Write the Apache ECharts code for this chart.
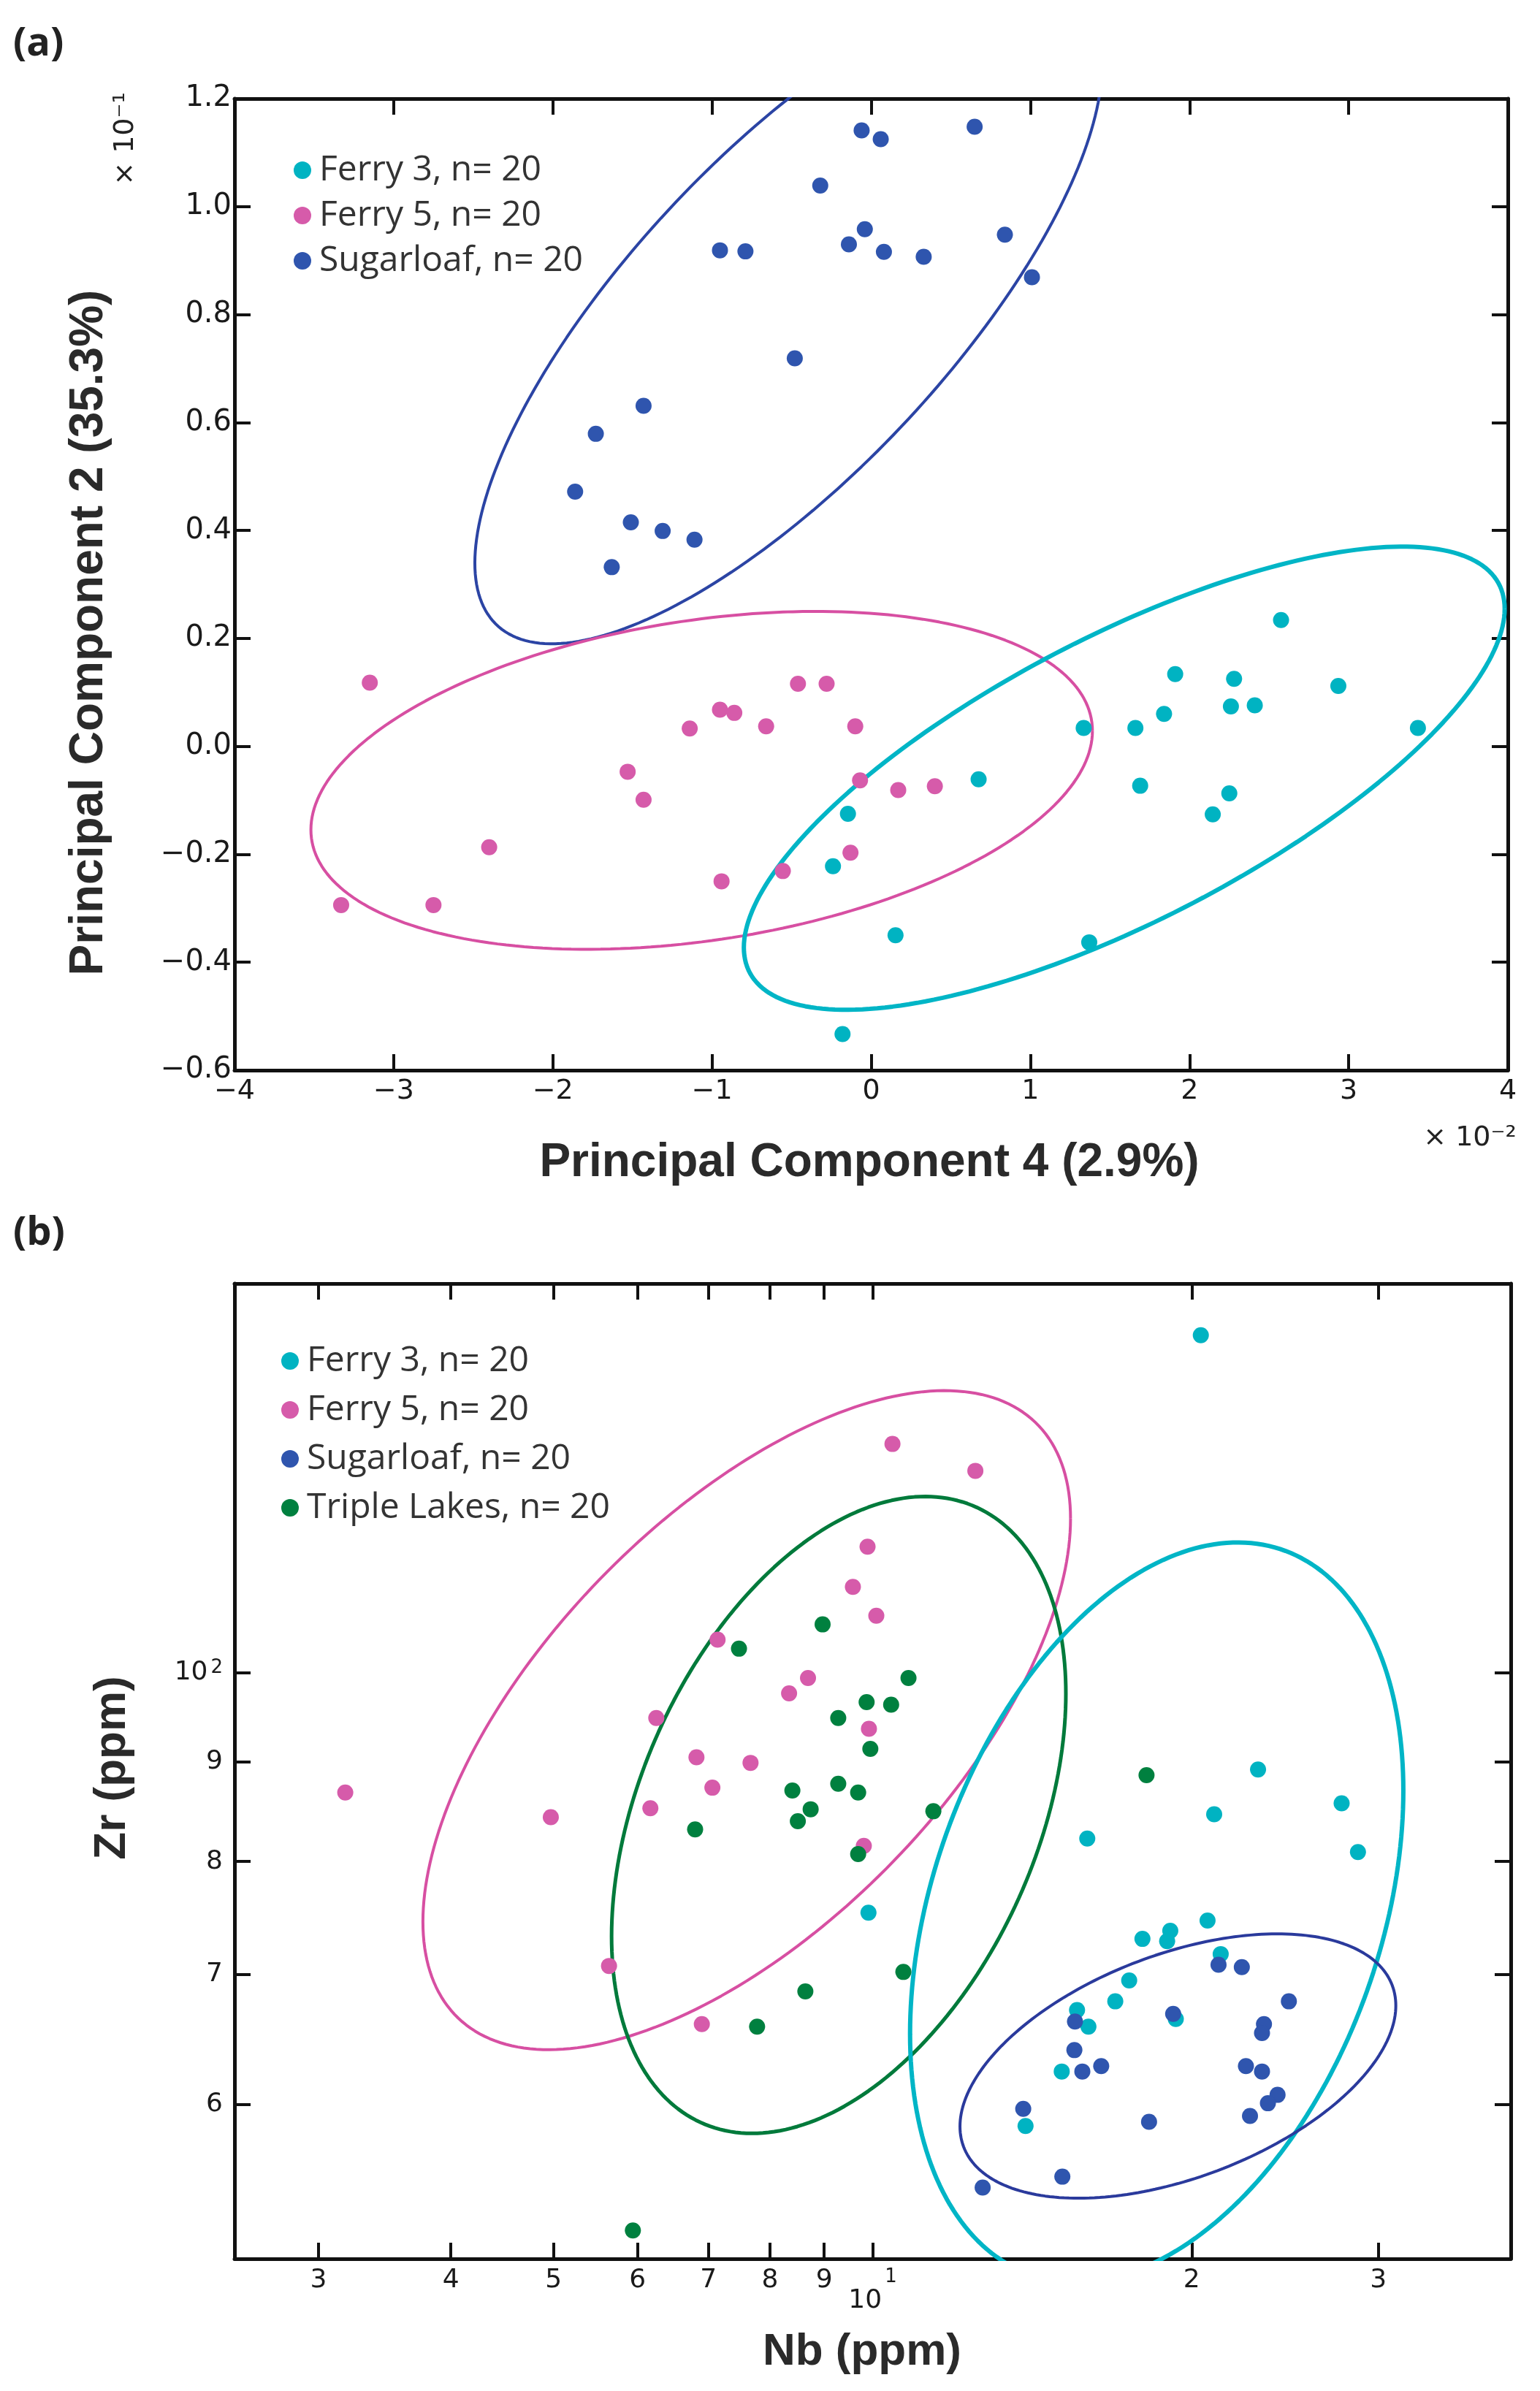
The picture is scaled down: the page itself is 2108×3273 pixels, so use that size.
<!DOCTYPE html>
<html>
<head>
<meta charset="utf-8">
<title>PCA scores and Nb-Zr plot</title>
<script src="https://cdn.jsdelivr.net/npm/echarts@6/dist/echarts.min.js"></script>
<style>
  html, body { margin: 0; padding: 0; background: #fff; }
  #chart { width: 2108px; height: 3273px; }
</style>
</head>
<body>
<div id="chart"></div>
<script>
// ---- (a) principal component scores (x: PC4 x10^-2, y: PC2 x10^-1) ----
const pcaFerry3X = [2.575, 1.91, 2.28, 2.935, 2.26, 2.41, 1.84, 1.335, 1.66, 3.435, 0.675, 1.69, 2.25, 2.146, -0.146, -0.24, 0.153, 1.37, -0.18];
const pcaFerry3Y = [0.234, 0.134, 0.125, 0.112, 0.074, 0.076, 0.060, 0.034, 0.034, 0.034, -0.061, -0.073, -0.087, -0.126, -0.125, -0.222, -0.35, -0.363, -0.533];
const pcaFerry5X = [-3.15, -1.14, -0.95, -0.86, -0.66, -1.53, -1.43, -2.40, -0.94, -3.33, -2.75, -0.46, -0.28, -0.10, -0.07, 0.17, 0.40, -0.13, -0.555];
const pcaFerry5Y = [0.118, 0.033, 0.068, 0.062, 0.037, -0.047, -0.099, -0.187, -0.25, -0.294, -0.294, 0.116, 0.116, 0.037, -0.063, -0.081, -0.074, -0.197, -0.231];
const pcaSugarX = [-0.95, -0.79, -1.43, -1.73, -1.86, -1.51, -1.31, -1.11, -1.63, -0.06, 0.06, 0.65, -0.32, -0.04, -0.14, 0.08, 0.33, 0.84, 1.01, -0.48];
const pcaSugarY = [0.919, 0.917, 0.631, 0.579, 0.472, 0.415, 0.399, 0.383, 0.332, 1.141, 1.125, 1.148, 1.039, 0.958, 0.930, 0.916, 0.907, 0.948, 0.869, 0.719];

// confidence ellipses: [cx, cy, rx, ry, phase in degrees]
const pcaEllFerry3 = [1.59, -0.059, 2.39, 0.429, 43];
const pcaEllFerry5 = [-1.065, -0.063, 2.455, 0.313, 73];
const pcaEllSugar = [-0.52, 0.80, 1.97, 0.61, 41];

// ---- (b) Nb vs Zr (ppm), log-log ----
const nbFerry3 = [20.4, 23.1, 27.7, 21.0, 15.94, 28.7, 9.91, 20.7, 19.09, 18.96, 17.97, 21.3, 17.46, 16.94, 15.59, 19.32, 15.98, 15.08, 13.94];
const zrFerry3 = [149.1, 89.2, 85.7, 84.6, 82.2, 80.9, 75.3, 74.6, 73.7, 72.8, 73.0, 71.7, 69.5, 67.8, 67.1, 66.4, 65.8, 62.4, 58.5];
const nbFerry5 = [7.14, 6.25, 6.82, 7.67, 7.06, 3.18, 4.97, 6.17, 5.64, 6.90, 10.44, 12.50, 9.89, 9.58, 10.08, 8.69, 8.34, 9.92, 9.81];
const zrFerry5 = [104.0, 94.8, 90.5, 89.9, 87.3, 86.8, 84.3, 85.2, 70.7, 66.0, 131.1, 127.0, 116.1, 110.7, 107.0, 99.4, 97.6, 93.6, 81.5];
const nbSugar = [21.2, 22.3, 24.7, 19.21, 15.52, 23.4, 23.3, 15.5, 16.43, 15.77, 22.5, 23.3, 24.1, 23.6, 13.87, 18.23, 22.7, 15.1, 12.70];
const zrSugar = [70.8, 70.6, 67.8, 66.8, 66.2, 66.0, 65.3, 64.0, 62.8, 62.4, 62.8, 62.4, 60.7, 60.1, 59.7, 58.8, 59.2, 55.1, 54.4];
const nbTriple = [7.48, 6.80, 7.78, 5.94, 8.97, 10.81, 9.87, 10.41, 9.28, 9.95, 18.13, 8.40, 9.28, 9.69, 8.74, 8.50, 11.41, 9.69, 10.69, 8.64];
const zrTriple = [102.9, 83.1, 65.8, 51.7, 105.9, 99.4, 96.6, 96.3, 94.8, 91.4, 88.6, 87.0, 87.7, 86.8, 85.1, 83.9, 84.9, 80.7, 70.2, 68.6];

// ellipses in log10 space: [cx, cy, rx, ry, phase in degrees]
const logEllFerry3 = [1.268, 1.877, 0.2327, 0.19, 70.8];
const logEllFerry5 = [0.8812, 1.9757, 0.3055, 0.1693, 52.3];
const logEllSugar = [1.288, 1.798, 0.2056, 0.0679, 62.8];
const logEllTriple = [0.968, 1.927, 0.2143, 0.1636, 67.6];

const nbTicks = [3, 4, 5, 6, 7, 8, 9, 10, 20, 30];
const zrTicks = [60, 70, 80, 90, 100];

const names = ['Ferry 3, n= 20', 'Ferry 5, n= 20', 'Sugarloaf, n= 20', 'Triple Lakes, n= 20'];
const dotColors = ['#00B3C2', '#D65BAA', '#2F55AE', '#00803F'];
const ringColors = ['#00B5C6', '#D74FA2', '#2B44A4', '#007A3B'];

function zip(xs, ys) { return xs.map((x, i) => [x, ys[i]]); }

function ellipse(p, logSpace) {
    const [cx, cy, rx, ry, ph] = p;
    const pts = [];
    for (let i = 0; i <= 240; i++) {
        const t = i / 240 * 2 * Math.PI;
        let x = cx + rx * Math.cos(t);
        let y = cy + ry * Math.cos(t - ph * Math.PI / 180);
        if (logSpace) { x = Math.pow(10, x); y = Math.pow(10, y); }
        pts.push([x, y]);
    }
    return pts;
}

const frameLine = { show: true, onZero: false, lineStyle: { color: '#111', width: 5 } };
const tickStyle = { inside: true, length: 22, lineStyle: { color: '#111', width: 4 } };
const minus = v => String(v).replace('-', '\u2212');

let chart = echarts.init(document.getElementById('chart'), null, { renderer: 'canvas' });

function ring(name, data, xi, yi, color, width) {
    return {
        name: name, type: 'line', data: data, xAxisIndex: xi, yAxisIndex: yi,
        showSymbol: false, symbol: 'none', silent: true, clip: true, z: 2,
        lineStyle: { color: color, width: width }
    };
}
function dots(k, data, xi, yi) {
    return {
        name: names[k], type: 'scatter', data: data, xAxisIndex: xi, yAxisIndex: yi,
        symbolSize: 22, itemStyle: { color: dotColors[k], opacity: 1 }, z: 3
    };
}

const supRich = {
    b: { fontFamily: 'DejaVu Sans', fontSize: 36, color: '#1a1a1a' },
    bl: { fontFamily: 'DejaVu Sans', fontSize: 36, color: '#1a1a1a', padding: [28, 0, 0, 0] },
    s: { fontFamily: 'DejaVu Sans', fontSize: 26, color: '#1a1a1a', verticalAlign: 'top', padding: [0, 0, 14, 4] }
};
const legendText = { fontFamily: 'Open Sans', fontSize: 48, color: '#333', lineHeight: 48, padding: [0, 0, 0, 6] };

let option = {
    animation: false,
    backgroundColor: '#fff',
    grid: [
        { left: 321, right: 44, top: 135, height: 1330 },
        { left: 321, right: 40, top: 1757, height: 1335 }
    ],
    xAxis: [
        { gridIndex: 0, type: 'value', min: -4, max: 4, interval: 1, position: 'bottom',
          axisLine: frameLine, axisTick: tickStyle, splitLine: { show: false },
          axisLabel: { margin: 10, formatter: minus, fontFamily: 'DejaVu Sans', fontSize: 38, color: '#1a1a1a' } },
        { gridIndex: 0, type: 'value', min: -4, max: 4, interval: 1, position: 'top',
          axisLine: frameLine, axisTick: tickStyle, splitLine: { show: false }, axisLabel: { show: false } },
        { gridIndex: 1, type: 'log', logBase: 10, min: 2.5, max: 40, position: 'bottom',
          axisLine: frameLine, splitLine: { show: false },
          axisTick: Object.assign({ customValues: nbTicks }, tickStyle),
          axisLabel: { customValues: nbTicks, margin: 12, rich: supRich,
              formatter: v => {
                  const n = Math.round(v);
                  if (n === 10) return '{bl|10}{s|1}';
                  if (n === 20) return '{b|2}';
                  if (n === 30) return '{b|3}';
                  return '{b|' + n + '}';
              } } },
        { gridIndex: 1, type: 'log', logBase: 10, min: 2.5, max: 40, position: 'top',
          axisLine: frameLine, splitLine: { show: false },
          axisTick: Object.assign({ customValues: nbTicks }, tickStyle), axisLabel: { show: false } }
    ],
    yAxis: [
        { gridIndex: 0, type: 'value', min: -0.6, max: 1.2, interval: 0.2, position: 'left',
          axisLine: frameLine, axisTick: tickStyle, splitLine: { show: false },
          axisLabel: { margin: 4, formatter: v => minus(v.toFixed(1)), fontFamily: 'DejaVu Sans', fontSize: 40, color: '#1a1a1a' } },
        { gridIndex: 0, type: 'value', min: -0.6, max: 1.2, interval: 0.2, position: 'right',
          axisLine: frameLine, axisTick: tickStyle, splitLine: { show: false }, axisLabel: { show: false } },
        { gridIndex: 1, type: 'log', logBase: 10, min: 50, max: 158.5, position: 'left',
          axisLine: frameLine, splitLine: { show: false },
          axisTick: Object.assign({ customValues: zrTicks }, tickStyle),
          axisLabel: { customValues: zrTicks, margin: 16, rich: supRich,
              formatter: v => {
                  const n = Math.round(v);
                  if (n === 100) return '{b|10}{s|2}';
                  return '{b|' + (n / 10) + '}';
              } } },
        { gridIndex: 1, type: 'log', logBase: 10, min: 50, max: 158.5, position: 'right',
          axisLine: frameLine, splitLine: { show: false },
          axisTick: Object.assign({ customValues: zrTicks }, tickStyle), axisLabel: { show: false } }
    ],
    legend: [
        { orient: 'vertical', left: 397, top: 204, itemGap: 14, itemWidth: 24, itemHeight: 24,
          icon: 'circle', data: names.slice(0, 3), textStyle: legendText },
        { orient: 'vertical', left: 380, top: 1834, itemGap: 19, itemWidth: 24, itemHeight: 24,
          icon: 'circle', data: names, textStyle: legendText }
    ],
    graphic: [
        { type: 'text', x: 18, y: 34, style: { text: '(a)', font: 'bold 54px "Open Sans"', fill: '#222' } },
        { type: 'text', x: 18, y: 1662, style: { text: '(b)', font: 'bold 54px "Open Sans"', fill: '#222' } },
        { type: 'text', x: 122, y: 866, rotation: Math.PI / 2,
          style: { text: 'Principal Component 2 (35.3%)', font: 'bold 64px "Liberation Sans"', fill: '#2a2a2a', align: 'center', verticalAlign: 'middle' } },
        { type: 'text', x: 1190, y: 1592,
          style: { text: 'Principal Component 4 (2.9%)', font: 'bold 64px "Liberation Sans"', fill: '#2a2a2a', align: 'center', verticalAlign: 'middle' } },
        { type: 'text', x: 172, y: 190, rotation: Math.PI / 2,
          style: { text: '\u00d7 10\u207b\u00b9', font: '38px "DejaVu Sans"', fill: '#222', align: 'center', verticalAlign: 'middle' } },
        { type: 'text', x: 2012, y: 1558,
          style: { text: '\u00d7 10\u207b\u00b2', font: '38px "DejaVu Sans"', fill: '#222', align: 'center', verticalAlign: 'middle' } },
        { type: 'text', x: 154, y: 2420, rotation: Math.PI / 2,
          style: { text: 'Zr (ppm)', font: 'bold 62px "Liberation Sans"', fill: '#2a2a2a', align: 'center', verticalAlign: 'middle' } },
        { type: 'text', x: 1180, y: 3220,
          style: { text: 'Nb (ppm)', font: 'bold 62px "Liberation Sans"', fill: '#2a2a2a', align: 'center', verticalAlign: 'middle' } }
    ],
    series: [
        ring('ell-a-sugar', ellipse(pcaEllSugar, false), 0, 0, ringColors[2], 4),
        ring('ell-a-ferry5', ellipse(pcaEllFerry5, false), 0, 0, ringColors[1], 4),
        ring('ell-a-ferry3', ellipse(pcaEllFerry3, false), 0, 0, ringColors[0], 6),
        dots(0, zip(pcaFerry3X, pcaFerry3Y), 0, 0),
        dots(1, zip(pcaFerry5X, pcaFerry5Y), 0, 0),
        dots(2, zip(pcaSugarX, pcaSugarY), 0, 0),

        ring('ell-b-ferry5', ellipse(logEllFerry5, true), 2, 2, ringColors[1], 4),
        ring('ell-b-triple', ellipse(logEllTriple, true), 2, 2, ringColors[3], 5),
        ring('ell-b-ferry3', ellipse(logEllFerry3, true), 2, 2, ringColors[0], 6),
        ring('ell-b-sugar', ellipse(logEllSugar, true), 2, 2, '#2A3A9C', 4),
        dots(0, zip(nbFerry3, zrFerry3), 2, 2),
        dots(1, zip(nbFerry5, zrFerry5), 2, 2),
        dots(2, zip(nbSugar, zrSugar), 2, 2),
        dots(3, zip(nbTriple, zrTriple), 2, 2)
    ]
};
chart.setOption(option);
</script>
</body>
</html>
